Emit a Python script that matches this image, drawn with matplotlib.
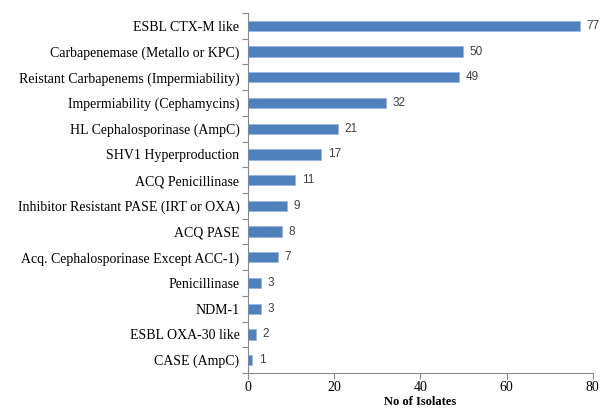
import matplotlib.pyplot as plt
import numpy as np

categories = [
    "ESBL CTX-M like",
    "Carbapenemase (Metallo or KPC)",
    "Reistant Carbapenems (Impermiability)",
    "Impermiability (Cephamycins)",
    "HL Cephalosporinase (AmpC)",
    "SHV1 Hyperproduction",
    "ACQ Penicillinase",
    "Inhibitor Resistant PASE (IRT or OXA)",
    "ACQ PASE",
    "Acq. Cephalosporinase Except ACC-1)",
    "Penicillinase",
    "NDM-1",
    "ESBL OXA-30 like",
    "CASE (AmpC)",
]
isolates = [77, 50, 49, 32, 21, 17, 11, 9, 8, 7, 3, 3, 2, 1]
xticks = [0, 20, 40, 60, 80]

plt.rcParams['font.family'] = ['Liberation Serif', 'DejaVu Serif']

fig = plt.figure(figsize=(6, 4.11), dpi=100)
ax = fig.add_axes([0.413, 0.0925, 0.575, 0.876])

n = len(categories)
ypos = np.arange(n)[::-1]
ax.barh(ypos, isolates, height=0.4, color='#4F81BD', edgecolor='#8EB4E3', linewidth=0.5)

for y, v in zip(ypos, isolates):
    ax.text(v + 1.5, y, str(v), va='center', ha='left', fontsize=8.5,
            family=['Liberation Sans', 'DejaVu Sans'], color='#404040')

ax.set_xlim(0, 80)
ax.set_ylim(-0.5, n - 0.5)
ax.set_xticks(xticks)
ax.set_xticklabels([str(t) for t in xticks], fontsize=10)

# category labels centered on bars, tick marks on the boundaries
ax.set_yticks(ypos)
ax.set_yticklabels(categories, fontsize=10)
ax.tick_params(axis='y', length=0, pad=6)
ax.set_yticks(np.arange(n + 1) - 0.5, minor=True)
ax.tick_params(axis='y', which='minor', length=4, color='#878787', width=0.8)
ax.tick_params(axis='x', length=4, color='#878787', width=0.8, pad=1.5)

for s in ['top', 'right']:
    ax.spines[s].set_visible(False)
for s in ['left', 'bottom']:
    ax.spines[s].set_color('#878787')
    ax.spines[s].set_linewidth(0.8)

ax.set_xlabel('No of Isolates', fontsize=9, fontweight='bold', labelpad=2)

fig.savefig('out.png', dpi=100)
